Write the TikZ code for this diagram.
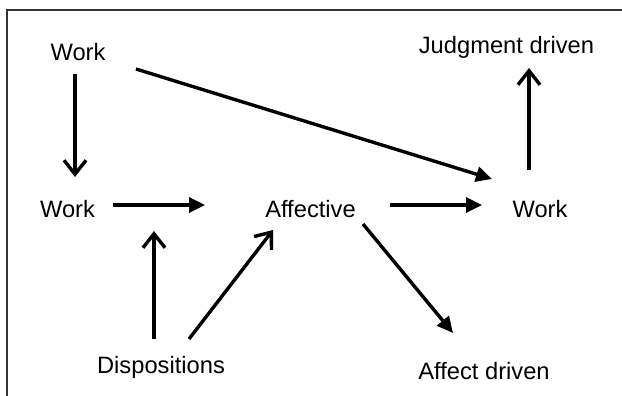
\documentclass[tikz,border=0pt]{standalone}
\usepackage{fontspec}
\setmainfont{Liberation Sans}
\usetikzlibrary{arrows.meta,calc}
\begin{document}
\begin{tikzpicture}[x=1pt,y=-1pt,
  lbl/.style={inner sep=0pt, anchor=base, font=\fontsize{23.7}{28}\selectfont},
  filled/.style={line width=3.4pt, -{Triangle[length=16pt,width=15pt]}},
  openv/.style={line width=3.4pt, -{Straight Barb[length=14pt,width=22pt]}},
  frame/.style={line width=1.6pt, color=black!80}
]
\useasboundingbox (0,0) rectangle (622,396);
\draw[frame] (7,396) -- (7,10) -- (622,10);

\node[lbl] (w1) at (78,61) {Work};
\node[lbl] (jd) at (506.5,54) {Judgment driven};
\node[lbl] (w2) at (67.5,217) {Work};
\node[lbl] (af) at (310.5,217) {Affective};
\node[lbl] (w3) at (540,217) {Work};
\node[lbl] (di) at (161,373) {Dispositions};
\node[lbl] (ad) at (484,379) {Affect driven};
\coordinate (m) at (154,231);

\draw[openv] ($(w1.base)+(-3,13)$) -- ($(w2.base)+(7.5,-40)$);
\draw[filled] ($(w1.base)+(58,8)$) -- ($(w3.base)+(-48,-38)$);
\draw[openv] ($(w3.base)+(-11,-47)$) -- ($(jd.base)+(22.5,14)$);
\draw[filled] ($(w2.base)+(45.5,-12)$) -- ($(af.base)+(-105.5,-12)$);
\draw[openv] ($(di.base)+(-7,-34)$) -- (m);
\draw[openv] ($(di.base)+(28,-34)$) -- ($(af.base)+(-37.5,13)$);
\draw[filled] ($(af.base)+(79.5,-12)$) -- ($(w3.base)+(-58,-12)$);
\draw[filled] ($(af.base)+(52.5,7)$) -- ($(ad.base)+(-31,-46)$);
\end{tikzpicture}
\end{document}
